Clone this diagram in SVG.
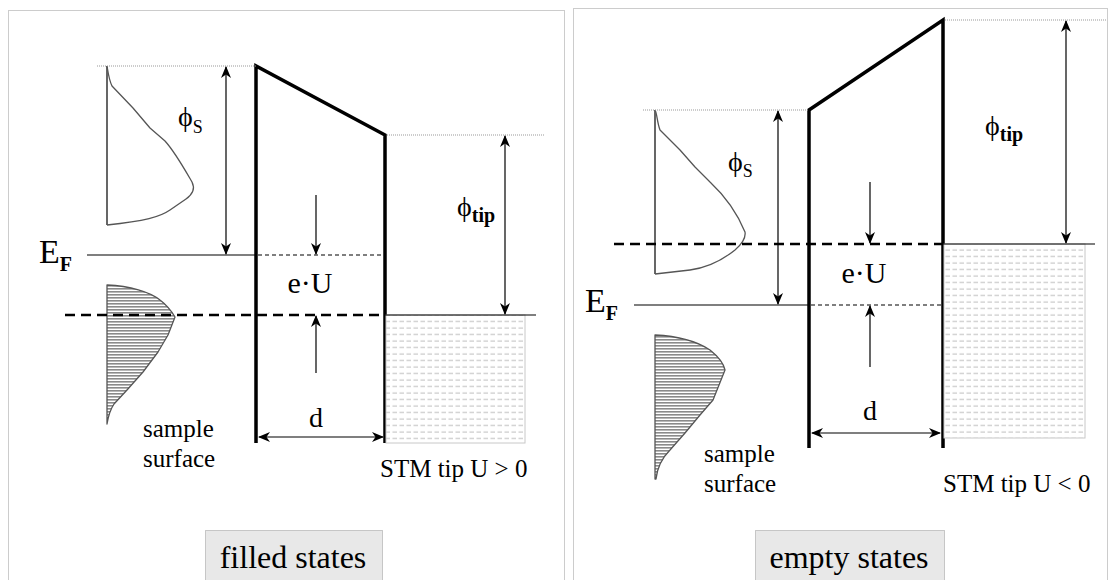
<svg xmlns="http://www.w3.org/2000/svg" width="1109" height="580" viewBox="0 0 1109 580">
<style>
text{font-family:"Liberation Serif","Times New Roman",serif;fill:#000}
.panel{fill:none;stroke:#999;stroke-width:1;stroke-dasharray:1 1}
.guide{stroke:#999;stroke-width:1;stroke-dasharray:1 1;fill:none}
.barrier{fill:none;stroke:#000;stroke-width:3.5;stroke-linejoin:miter}
.solid{stroke:#000;stroke-width:1.2;fill:none}
.sdash{stroke:#000;stroke-width:1.2;stroke-dasharray:4 3;fill:none}
.hdash{stroke:#000;stroke-width:2.5;stroke-dasharray:10 6;fill:none}
.dos{fill:none;stroke:#555;stroke-width:1.3;stroke-linejoin:round}
.dosf{fill:url(#stripes);stroke:#555;stroke-width:1.3;stroke-linejoin:round}
.axis{stroke:#000;stroke-width:1.2}
.arr{stroke:#000;stroke-width:1.2;fill:none;marker-end:url(#ah)}
.arr2{stroke:#000;stroke-width:1.2;fill:none;marker-end:url(#ah);marker-start:url(#ah)}
.tip{fill:url(#tipfill);stroke:#c8c8c8;stroke-width:1}
.lbl{fill:#e8e8e8;stroke:#999;stroke-width:1;stroke-dasharray:1 1}
</style>
<defs>
<marker id="ah" viewBox="0 0 12 10" refX="11" refY="5" markerWidth="12" markerHeight="10" markerUnits="userSpaceOnUse" orient="auto-start-reverse">
<path d="M0,0 L12,5 L0,10 L3.5,5 z" fill="#000"/>
</marker>
<pattern id="stripes" width="6" height="3" patternUnits="userSpaceOnUse">
<rect width="6" height="3" fill="#fff"/>
<rect y="0" width="6" height="1.6" fill="#8a8a8a"/>
</pattern>
<pattern id="tipfill" width="7" height="6.5" patternUnits="userSpaceOnUse">
<rect width="7" height="6.5" fill="#fff"/>
<line x1="0.5" y1="3" x2="5" y2="3" stroke="#bdbdbd" stroke-width="1"/>
</pattern>
</defs>

<g id="panel-filled">
<rect class="panel" x="8.5" y="10.5" width="556" height="600"/>
</g>
<g id="panel-empty">
<rect class="panel" x="573.5" y="8.5" width="534" height="600"/>
</g>

<g id="left-dos-upper">
<line class="axis" x1="107" y1="66" x2="107" y2="225"/>
<path class="dos" d="M107,66 C108,72 109,80 112,86 L133,108 L150,128 L165,141 C175,152 185,170 192,182 C195,188 193,194 186,199 L170,210 C160,217 145,221 107,225"/>
</g>
<g id="left-dos-lower">
<path class="dosf" d="M107,285 C130,286 150,292 160,300 C168,306 172,312 175,317 L168,335 L158,352 L143,372 L127,390 L114,404 C110,410 108,418 107,424 Z"/>
</g>
<g id="left-barrier">
<path class="barrier" d="M256,443 L256,66 L385,135 L385,443"/>
</g>
<g id="left-tip">
<rect class="tip" x="386" y="315" width="139" height="128"/>
</g>
<g id="left-levels">
<line class="guide" x1="97" y1="66" x2="256" y2="66"/>
<line class="guide" x1="387" y1="135" x2="545" y2="135"/>
<line class="solid" x1="87" y1="255" x2="256" y2="255"/>
<line class="sdash" x1="258" y1="255" x2="385" y2="255"/>
<line class="solid" x1="385" y1="315" x2="536" y2="315"/>
<line class="hdash" x1="65" y1="315" x2="385" y2="315"/>
</g>
<g id="connectors">
<line class="arr2" x1="226" y1="67" x2="226" y2="254"/>
<line class="arr2" x1="505" y1="136" x2="505" y2="314"/>
<line class="arr" x1="316" y1="195" x2="316" y2="254"/>
<line class="arr" x1="316" y1="373" x2="316" y2="316"/>
<line class="arr2" x1="259" y1="437" x2="383" y2="437"/>
<line class="arr2" x1="778" y1="111" x2="778" y2="304"/>
<line class="arr2" x1="1066" y1="21" x2="1066" y2="243"/>
<line class="arr" x1="870" y1="182" x2="870" y2="243"/>
<line class="arr" x1="870" y1="367" x2="870" y2="306"/>
<line class="arr2" x1="812" y1="433" x2="940" y2="433"/>
</g>
<g id="left-labels">
<text x="178" y="126" font-size="28">ϕ<tspan dy="7" font-size="18">S</tspan></text>
<text x="39" y="263" font-size="34">E<tspan dy="8" font-size="20" font-weight="bold">F</tspan></text>
<text x="457" y="216" font-size="28">ϕ<tspan dy="6" font-size="20" font-weight="bold">tip</tspan></text>
<text x="310" y="293" font-size="30" text-anchor="middle">e·U</text>
<text x="316" y="427" font-size="28" text-anchor="middle">d</text>
<text x="380" y="477" font-size="25">STM tip U &gt; 0</text>
<text x="143" y="437" font-size="25">sample</text>
<text x="143" y="467" font-size="25">surface</text>
</g>
<g id="left-caption">
<rect class="lbl" x="205.5" y="530.5" width="177" height="60"/>
<text x="293" y="568" font-size="32" text-anchor="middle">filled states</text>
</g>

<g id="right-dos-upper">
<line class="axis" x1="655" y1="110" x2="655" y2="274"/>
<path class="dos" d="M655,110 C657,113 657,122 660,130 L680,150 L695,167 L710,182 C725,196 738,215 745,232 C746,238 742,244 735,250 C720,262 705,268 690,270 L655,274"/>
</g>
<g id="right-dos-lower">
<path class="dosf" d="M655,335 C675,336 695,340 710,350 C720,358 724,365 725,370 L713,400 L700,415 L685,433 L670,450 C660,460 657,470 656,479 L655,479 Z"/>
</g>
<g id="right-barrier">
<path class="barrier" d="M809,448 L809,110 L943,20 L943,448"/>
</g>
<g id="right-tip">
<rect class="tip" x="944" y="244" width="141" height="194"/>
</g>
<g id="right-levels">
<line class="guide" x1="643" y1="110" x2="808" y2="110"/>
<line class="guide" x1="945" y1="20" x2="1106" y2="20"/>
<line class="solid" x1="634" y1="305" x2="809" y2="305"/>
<line class="sdash" x1="811" y1="305" x2="943" y2="305"/>
<line class="solid" x1="943" y1="244" x2="1095" y2="244"/>
<line class="hdash" x1="614" y1="244" x2="943" y2="244"/>
</g>
<g id="right-labels">
<text x="728" y="171" font-size="28">ϕ<tspan dy="6" font-size="18">S</tspan></text>
<text x="585" y="312" font-size="34">E<tspan dy="8" font-size="20" font-weight="bold">F</tspan></text>
<text x="985" y="135" font-size="28">ϕ<tspan dy="6" font-size="20" font-weight="bold">tip</tspan></text>
<text x="864" y="283" font-size="30" text-anchor="middle">e·U</text>
<text x="870" y="420" font-size="28" text-anchor="middle">d</text>
<text x="943" y="492" font-size="25">STM tip U &lt; 0</text>
<text x="704" y="462" font-size="25">sample</text>
<text x="704" y="492" font-size="25">surface</text>
</g>
<g id="right-caption">
<rect class="lbl" x="755.5" y="530.5" width="189" height="60"/>
<text x="849" y="568" font-size="32" text-anchor="middle">empty states</text>
</g>
</svg>
